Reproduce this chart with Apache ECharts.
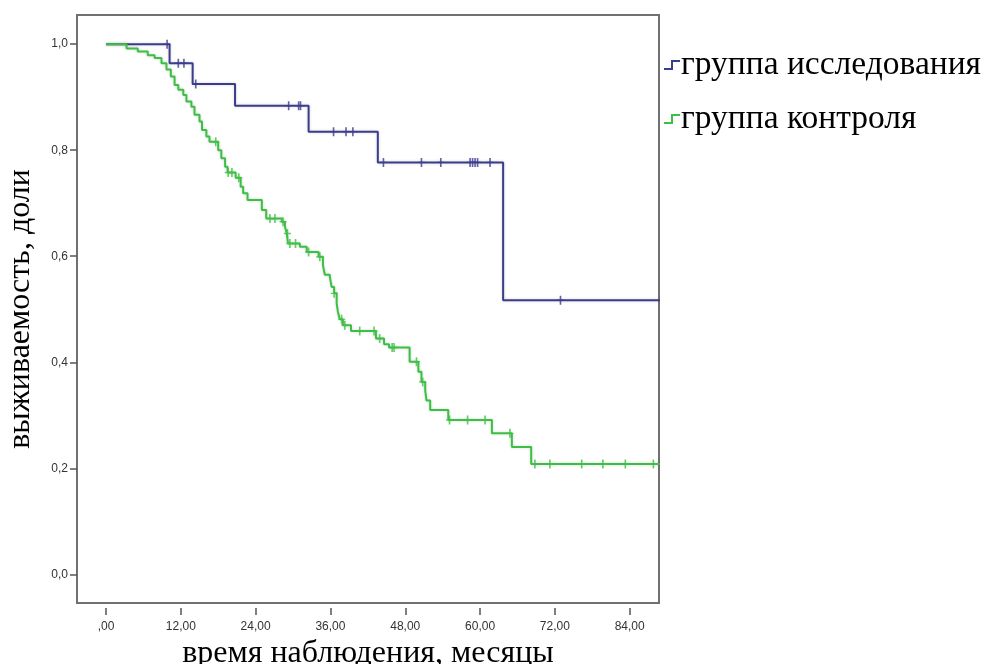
<!DOCTYPE html>
<html>
<head>
<meta charset="utf-8">
<script src="https://cdn.jsdelivr.net/npm/echarts@6/dist/echarts.min.js"></script>
<style>
  html, body { margin: 0; padding: 0; background: #fff; }
  #chart { width: 990px; height: 664px; }
</style>
</head>
<body>
<div id="chart"></div>
<script>
// Axis tick positions
const xTicks = [0, 12, 24, 36, 48, 60, 72, 84];
const yTicks = [0, 0.2, 0.4, 0.6, 0.8, 1.0];

// Kaplan–Meier steps: [month, survival after the event]
const studyCurve = [
  [0, 1.0], [10.2, 0.964], [13.9, 0.925], [20.7, 0.884], [32.5, 0.835],
  [43.6, 0.777], [63.7, 0.517], [90, 0.517]
];
// Censored observations (months)
const studyCensored = [9.8, 11.6, 12.5, 14.4, 29.3, 30.9, 31.2, 36.5, 38.5, 39.6,
  44.5, 50.6, 53.7, 58.4, 58.8, 59.2, 59.6, 61.6, 72.9];

const controlCurve = [
  [0, 1.0], [3.3, 0.992], [5.1, 0.986], [6.7, 0.979], [7.8, 0.974], [8.9, 0.964],
  [9.7, 0.952], [10.4, 0.939], [11.0, 0.923], [11.6, 0.914], [12.4, 0.904],
  [12.9, 0.892], [13.7, 0.882], [14.2, 0.867], [15.0, 0.854], [15.4, 0.838],
  [16.1, 0.826], [16.6, 0.816], [18.0, 0.800], [18.5, 0.785], [19.1, 0.769],
  [19.5, 0.758], [20.8, 0.748], [21.6, 0.731], [22.0, 0.719], [22.7, 0.706],
  [25.0, 0.687], [25.7, 0.671], [28.2, 0.665], [28.7, 0.656], [29.0, 0.643],
  [29.2, 0.624], [31.1, 0.618], [32.2, 0.608], [34.1, 0.599], [34.8, 0.583],
  [35.1, 0.565], [35.9, 0.561], [36.2, 0.542], [36.6, 0.530], [37.0, 0.511],
  [37.2, 0.495], [37.5, 0.481], [38.0, 0.470], [39.3, 0.459], [43.3, 0.445],
  [44.6, 0.434], [45.4, 0.428], [48.7, 0.401], [50.1, 0.382], [50.6, 0.363],
  [51.2, 0.347], [51.4, 0.328], [52.0, 0.310], [54.9, 0.291], [61.9, 0.266],
  [65.1, 0.240], [68.2, 0.208], [90, 0.208]
];
const controlCensored = [17.6, 19.6, 20.2, 21.3, 26.3, 27.1, 28.4, 29.1, 29.5, 30.4,
  32.5, 34.3, 36.6, 37.8, 38.3, 40.7, 43.0, 43.9, 45.9, 46.2, 49.8, 50.8,
  55.1, 58.0, 60.8, 64.8, 68.8, 71.2, 76.3, 79.7, 83.3, 87.8];

const names = ['группа исследования', 'группа контроля'];
const colors = ['#3b3c8c', '#3cc043'];

// survival level of a step curve at time t
function levelAt(curve, t) {
  let s = curve[0][1];
  for (const [ti, si] of curve) {
    if (ti <= t) s = si; else break;
  }
  return s;
}
const censorPoints = (curve, times) => times.map(t => [t, levelAt(curve, t)]);

const plusMark = 'path://M-0.7,-4.5 H0.7 V-0.7 H3 V0.7 H0.7 V4.5 H-0.7 V0.7 H-3 V-0.7 H-0.7 Z';
const stepIcon = 'path://M0,8 H7 V0 H16 V2 H9 V10 H0 Z';

const serif = '"Liberation Serif", "DejaVu Serif", serif';
const sans = '"Liberation Sans", Arial, sans-serif';

const lineShadow = { shadowColor: 'rgba(0,0,0,0.18)', shadowBlur: 3 };

const chart = echarts.init(document.getElementById('chart'), null, { renderer: 'canvas' });
chart.setOption({
  animation: false,
  backgroundColor: '#fff',
  grid: {
    left: 77, top: 15, right: 331, bottom: 61,
    outerBoundsMode: 'none', containLabel: false,
    show: true, borderColor: '#707070', borderWidth: 2, backgroundColor: '#fff'
  },
  legend: {
    orient: 'vertical', left: 659, top: 42,
    itemWidth: 16, itemHeight: 10, itemGap: 18,
    data: names.map((n, i) => ({ name: n, icon: stepIcon, itemStyle: { color: colors[i] } })),
    textStyle: { fontFamily: serif, fontSize: 33.5, color: '#000', lineHeight: 36, padding: [0, 0, 0, -4] }
  },
  xAxis: {
    type: 'value', min: -4.65, max: 88.7,
    offset: 5,
    name: 'время наблюдения, месяцы', nameLocation: 'middle', nameGap: 29,
    nameTextStyle: { fontFamily: serif, fontSize: 32, color: '#000' },
    axisLine: { show: false, onZero: false },
    splitLine: { show: false },
    axisTick: { show: true, length: 7, customValues: xTicks, lineStyle: { color: '#555', width: 1.5 } },
    axisLabel: {
      customValues: xTicks, margin: 13, color: '#333', fontFamily: sans, fontSize: 12,
      formatter: v => (v === 0 ? ',00' : v.toFixed(2).replace('.', ','))
    }
  },
  yAxis: {
    type: 'value', min: -0.054, max: 1.055,
    name: 'выживаемость, доли', nameLocation: 'middle', nameGap: 40, nameRotate: 90,
    nameTextStyle: { fontFamily: serif, fontSize: 32, color: '#000' },
    axisLine: { show: false, onZero: false },
    splitLine: { show: false },
    axisTick: { show: true, length: 7, customValues: yTicks, lineStyle: { color: '#555', width: 1.5 } },
    axisLabel: {
      customValues: yTicks, margin: 9, color: '#333', fontFamily: sans, fontSize: 12,
      formatter: v => v.toFixed(1).replace('.', ',')
    }
  },
  series: [
    {
      name: names[0], type: 'line', step: 'end', data: studyCurve,
      showSymbol: false, symbol: 'none', z: 2,
      lineStyle: Object.assign({ color: colors[0], width: 2 }, lineShadow),
      itemStyle: { color: colors[0] }
    },
    {
      name: names[0] + ' (цензурированные)', type: 'scatter',
      data: censorPoints(studyCurve, studyCensored),
      symbol: plusMark, symbolSize: [7, 9], z: 3,
      itemStyle: { color: colors[0] }
    },
    {
      name: names[1], type: 'line', step: 'end', data: controlCurve,
      showSymbol: false, symbol: 'none', z: 4,
      lineStyle: Object.assign({ color: colors[1], width: 2 }, lineShadow),
      itemStyle: { color: colors[1] }
    },
    {
      name: names[1] + ' (цензурированные)', type: 'scatter',
      data: censorPoints(controlCurve, controlCensored),
      symbol: plusMark, symbolSize: [7, 9], z: 5,
      itemStyle: { color: colors[1] }
    }
  ]
});
</script>
</body>
</html>
